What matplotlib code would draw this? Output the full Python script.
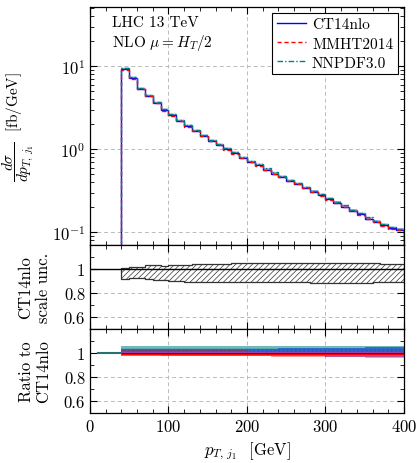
import numpy as np
import matplotlib
matplotlib.use("Agg")
import matplotlib.pyplot as plt
from matplotlib.ticker import MultipleLocator, LogLocator, NullFormatter

plt.rcParams.update(
    {
        "font.family": "cmr10",
        "mathtext.fontset": "cm",
        "axes.formatter.use_mathtext": True,
        "font.size": 12,
        "axes.linewidth": 0.9,
        "xtick.direction": "in",
        "ytick.direction": "in",
        "xtick.top": True,
        "ytick.right": True,
        "xtick.major.size": 5,
        "ytick.major.size": 5,
        "xtick.minor.size": 3,
        "ytick.minor.size": 3,
        "hatch.linewidth": 0.5,
    }
)

# bin edges: 40 .. 400 GeV in 10 GeV steps
edges = np.arange(40, 401, 10)

# CT14nlo central cross section [fb/GeV]
ct14 = [9.2, 7.2, 5.4, 4.4, 3.65, 2.95, 2.57, 2.2, 1.9, 1.66,
        1.45, 1.26, 1.13, 1.0, 0.895, 0.79, 0.70, 0.64, 0.57, 0.51,
        0.465, 0.416, 0.38, 0.342, 0.306, 0.279, 0.25, 0.225, 0.204, 0.182,
        0.165, 0.146, 0.133, 0.121, 0.111, 0.107]

# ratio of MMHT2014 and NNPDF3.0 to CT14nlo
ratio_mmht = [0.99, 0.99, 0.99, 0.99, 0.99, 0.99, 0.99, 0.99, 0.99, 0.99,
              0.99, 0.99, 0.99, 0.99, 0.99, 0.99, 0.99, 0.99, 0.99, 0.99,
              0.99, 0.99, 0.99, 0.99, 0.99, 0.99, 0.99, 0.99, 0.99, 0.99,
              0.99, 0.99, 0.99, 0.99, 0.99, 0.99]
ratio_nnpdf = [1.03, 1.03, 1.03, 1.03, 1.03, 1.03, 1.03, 1.03, 1.03, 1.03,
               1.03, 1.03, 1.03, 1.03, 1.03, 1.03, 1.03, 1.03, 1.03, 1.03,
               1.03, 1.03, 1.03, 1.03, 1.03, 1.03, 1.03, 1.03, 1.03, 1.03,
               1.03, 1.03, 1.03, 1.03, 1.03, 1.03]

# PDF uncertainty bands (ratio to CT14nlo)
ct14_lo = [0.975, 0.975, 0.975, 0.975, 0.975, 0.975, 0.975, 0.975, 0.975, 0.975,
           0.975, 0.975, 0.975, 0.975, 0.975, 0.975, 0.975, 0.975, 0.975, 0.975,
           0.972, 0.972, 0.972, 0.972, 0.972, 0.972, 0.970, 0.970, 0.970, 0.970,
           0.970, 0.968, 0.968, 0.968, 0.968, 0.968]
ct14_hi = [1.030, 1.030, 1.030, 1.030, 1.030, 1.030, 1.030, 1.030, 1.030, 1.030,
           1.032, 1.032, 1.032, 1.032, 1.032, 1.035, 1.035, 1.035, 1.035, 1.035,
           1.038, 1.038, 1.038, 1.038, 1.040, 1.040, 1.042, 1.042, 1.042, 1.045,
           1.045, 1.047, 1.047, 1.048, 1.048, 1.048]
mmht_lo = [0.980, 0.980, 0.980, 0.980, 0.980, 0.978, 0.978, 0.978, 0.978, 0.978,
           0.976, 0.976, 0.976, 0.976, 0.974, 0.974, 0.972, 0.972, 0.972, 0.970,
           0.970, 0.968, 0.968, 0.968, 0.966, 0.966, 0.966, 0.966, 0.964, 0.964,
           0.964, 0.962, 0.962, 0.962, 0.962, 0.962]
mmht_hi = [1.022, 1.022, 1.022, 1.022, 1.022, 1.022, 1.022, 1.022, 1.022, 1.022,
           1.022, 1.022, 1.022, 1.022, 1.022, 1.022, 1.020, 1.020, 1.020, 1.020,
           1.020, 1.020, 1.020, 1.020, 1.020, 1.020, 1.020, 1.020, 1.020, 1.020,
           1.020, 1.020, 1.020, 1.020, 1.020, 1.020]
nnpdf_lo = [1.012, 1.012, 1.012, 1.012, 1.012, 1.012, 1.012, 1.012, 1.012, 1.012,
            1.012, 1.012, 1.012, 1.012, 1.012, 1.012, 1.012, 1.012, 1.012, 1.012,
            1.012, 1.012, 1.012, 1.012, 1.012, 1.012, 1.012, 1.012, 1.012, 1.012,
            1.012, 1.012, 1.012, 1.012, 1.012, 1.012]
nnpdf_hi = [1.055, 1.055, 1.055, 1.055, 1.055, 1.055, 1.055, 1.055, 1.055, 1.055,
            1.055, 1.055, 1.055, 1.055, 1.055, 1.055, 1.055, 1.055, 1.055, 1.055,
            1.055, 1.055, 1.055, 1.055, 1.055, 1.055, 1.055, 1.055, 1.055, 1.055,
            1.055, 1.055, 1.055, 1.055, 1.055, 1.055]

# CT14nlo scale uncertainty band
scale_hi = [1.012, 1.014, 1.02, 1.03, 1.03, 1.025, 1.035, 1.035, 1.035, 1.038,
            1.04, 1.04, 1.042, 1.045, 1.048, 1.048, 1.05, 1.05, 1.05, 1.052,
            1.05, 1.052, 1.052, 1.05, 1.048, 1.052, 1.05, 1.05, 1.048, 1.05,
            1.048, 1.05, 1.048, 1.045, 1.045, 1.045]
scale_lo = [0.917, 0.925, 0.928, 0.92, 0.905, 0.905, 0.9, 0.897, 0.895, 0.895,
            0.895, 0.893, 0.893, 0.893, 0.892, 0.89, 0.89, 0.89, 0.89, 0.89,
            0.89, 0.888, 0.888, 0.888, 0.885, 0.885, 0.88, 0.882, 0.885, 0.885,
            0.887, 0.887, 0.888, 0.888, 0.89, 0.89]

BLUE = "#0000ff"
RED = "#ff0000"
TEAL = "#008080"


def stepfill(ax, lo, hi, **kw):
    lo = np.asarray(lo)
    hi = np.asarray(hi)
    ax.fill_between(edges, np.append(lo, lo[-1]), np.append(hi, hi[-1]), step="post", **kw)


def style_axis(ax):
    ax.set_xlim(0, 400)
    ax.xaxis.set_major_locator(MultipleLocator(100))
    ax.xaxis.set_minor_locator(MultipleLocator(20))
    ax.grid(True, which="major", color="#bbbbbb", linestyle=(0, (4, 3)), linewidth=0.7)
    ax.set_axisbelow(True)


fig = plt.figure(figsize=(4.18, 4.64), dpi=100)
left, width = 0.2153, 0.7512
ax_main = fig.add_axes([left, 0.4698, width, 0.5129])
ax_scale = fig.add_axes([left, 0.2888, width, 0.181], sharex=ax_main)
ax_ratio = fig.add_axes([left, 0.1078, width, 0.181], sharex=ax_main)

ct14_arr = np.asarray(ct14)
mmht_arr = ct14_arr * np.asarray(ratio_mmht)
nnpdf_arr = ct14_arr * np.asarray(ratio_nnpdf)

# main panel
ax_main.set_yscale("log")
stepfill(ax_main, ct14_arr * np.asarray(ct14_lo), ct14_arr * np.asarray(ct14_hi),
         color=BLUE, alpha=0.25, linewidth=0)
stepfill(ax_main, ct14_arr * np.asarray(mmht_lo), ct14_arr * np.asarray(mmht_hi),
         color=RED, alpha=0.2, linewidth=0)
stepfill(ax_main, ct14_arr * np.asarray(nnpdf_lo), ct14_arr * np.asarray(nnpdf_hi),
         color=TEAL, alpha=0.2, linewidth=0)
ax_main.stairs(ct14_arr, edges, baseline=1e-3, color=BLUE, linewidth=1.0, label="CT14nlo")
ax_main.stairs(mmht_arr, edges, baseline=1e-3, color=RED, linewidth=1.0,
               linestyle=(0, (3, 2)), label="MMHT2014")
ax_main.stairs(nnpdf_arr, edges, baseline=1e-3, color=TEAL, linewidth=1.0,
               linestyle=(0, (4, 1.5, 1, 1.5)), label="NNPDF3.0")
ax_main.set_ylim(0.07, 52)
ax_main.yaxis.set_major_locator(LogLocator(base=10, numticks=10))
ax_main.yaxis.set_minor_locator(LogLocator(base=10, subs=np.arange(2, 10), numticks=10))
ax_main.yaxis.set_minor_formatter(NullFormatter())
style_axis(ax_main)
ax_main.tick_params(labelbottom=False)
ax_main.set_ylabel(r"$\dfrac{d\sigma}{dp_{T,\,j_1}}$  [fb/GeV]", fontsize=11)
ax_main.text(0.07, 0.965, "LHC 13 TeV\nNLO $\\mu = H_T/2$", transform=ax_main.transAxes,
             ha="left", va="top", fontsize=11, linespacing=1.2)
leg = ax_main.legend(loc="upper right", fontsize=11, fancybox=False, framealpha=1,
                     edgecolor="black", handlelength=1.9, borderaxespad=0.4,
                     labelspacing=0.35, borderpad=0.3, handletextpad=0.4)
leg.get_frame().set_linewidth(0.8)

# scale uncertainty panel
stepfill(ax_scale, scale_lo, scale_hi, facecolor="white", edgecolor="#333333",
         hatch="//////", linewidth=0.9)
ax_scale.plot([0, 400], [1, 1], color="black", linewidth=1.0)
ax_scale.set_ylim(0.5, 1.2)
ax_scale.set_yticks([0.6, 0.8, 1.0])
ax_scale.set_yticklabels(["0.6", "0.8", "1"])
ax_scale.yaxis.set_minor_locator(MultipleLocator(0.1))
style_axis(ax_scale)
ax_scale.tick_params(labelbottom=False)
ax_scale.set_ylabel("CT14nlo\nscale unc.", linespacing=1.15)

# ratio panel
stepfill(ax_ratio, nnpdf_lo, nnpdf_hi, color=TEAL, alpha=0.55, linewidth=0)
stepfill(ax_ratio, ct14_lo, ct14_hi, color=BLUE, alpha=0.45, linewidth=0, hatch="....")
stepfill(ax_ratio, mmht_lo, mmht_hi, color=RED, alpha=0.4, linewidth=0)
ax_ratio.plot([10, 40], [1, 1], color="#2a7070", linewidth=1.5)
ax_ratio.stairs(np.ones(len(ct14)), edges, baseline=None, color=BLUE, linewidth=1.0)
ax_ratio.stairs(np.asarray(ratio_mmht), edges, baseline=None, color=RED, linewidth=1.0)
ax_ratio.stairs(np.asarray(ratio_nnpdf), edges, baseline=None, color=TEAL, linewidth=1.0)
ax_ratio.set_ylim(0.5, 1.2)
ax_ratio.set_yticks([0.6, 0.8, 1.0])
ax_ratio.set_yticklabels(["0.6", "0.8", "1"])
ax_ratio.yaxis.set_minor_locator(MultipleLocator(0.1))
style_axis(ax_ratio)
ax_ratio.set_ylabel("Ratio to\nCT14nlo", linespacing=1.15)
ax_ratio.set_xlabel(r"$p_{T,\,j_1}$  [GeV]")

ax_main.yaxis.set_label_coords(-0.175, 0.5)
ax_scale.yaxis.set_label_coords(-0.125, 0.5)
ax_ratio.yaxis.set_label_coords(-0.125, 0.5)

fig.savefig("out.png", dpi=100)
